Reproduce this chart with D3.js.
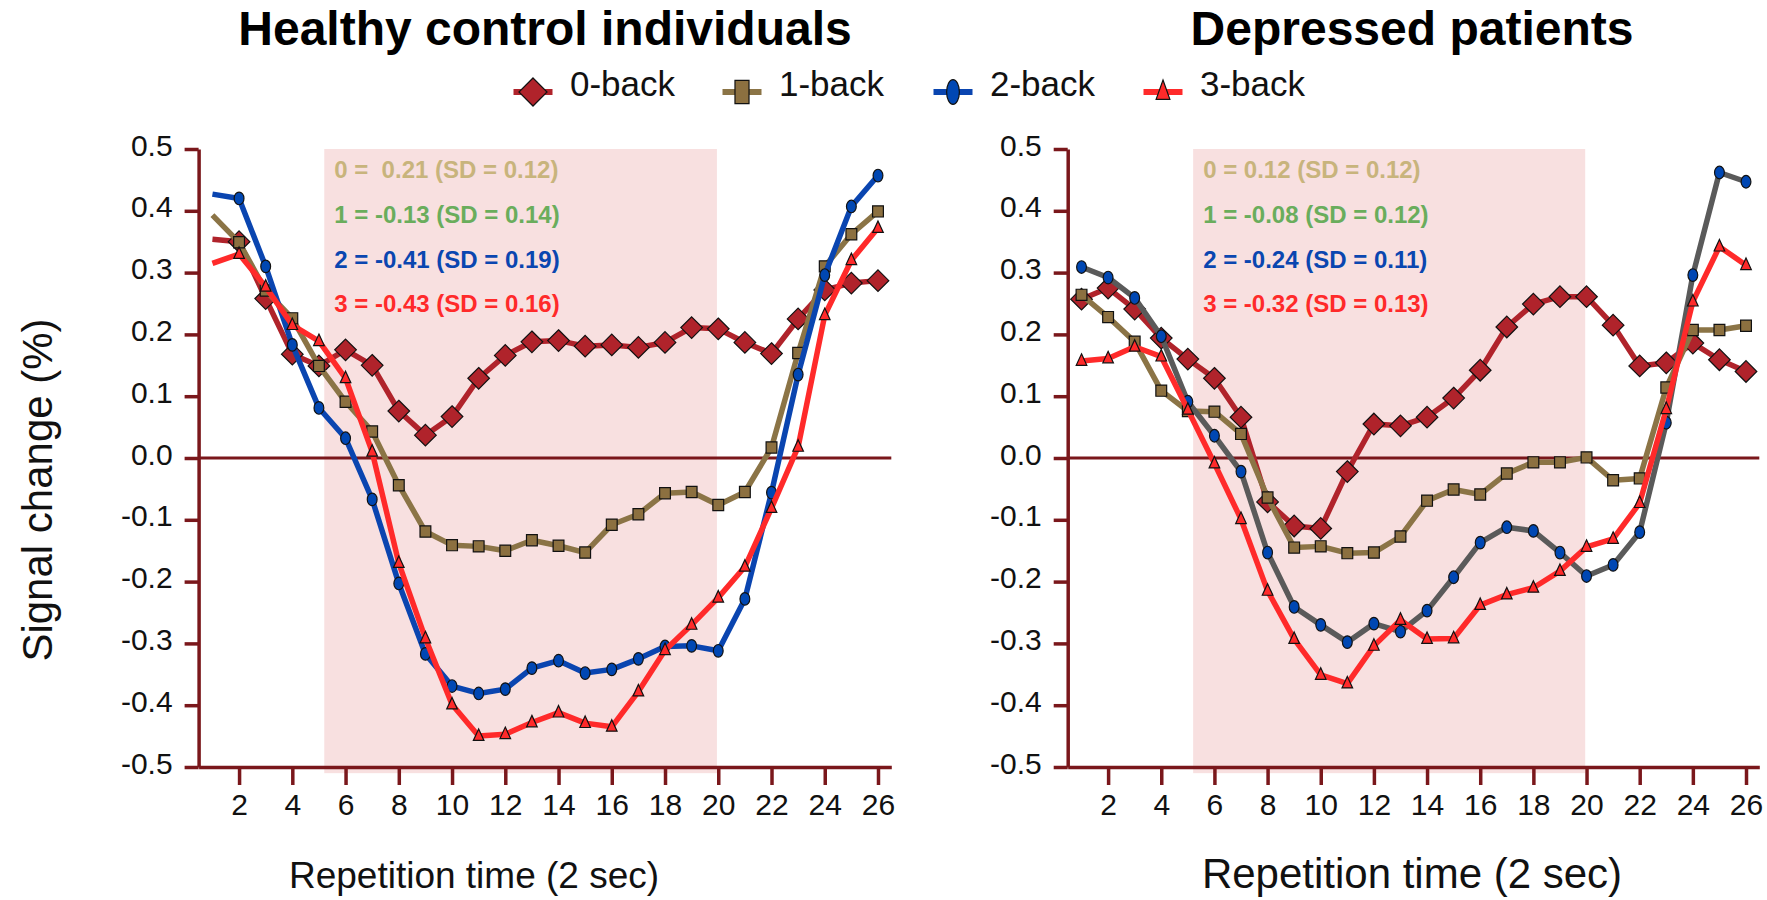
<!DOCTYPE html>
<html>
<head>
<meta charset="utf-8">
<script src="https://cdn.jsdelivr.net/npm/d3@7"></script>
<style>
  body { margin: 0; background: #fff; }
  svg { display: block; font-family: "Liberation Sans", Arial, sans-serif; }
</style>
</head>
<body>
<div id="chart"></div>
<script>
// data
const repetitions = [1,2,3,4,5,6,7,8,9,10,11,12,13,14,15,16,17,18,19,20,21,22,23,24,25,26];
const xTicks = [2,4,6,8,10,12,14,16,18,20,22,24,26];
const yTicks = [0.5,0.4,0.3,0.2,0.1,0.0,-0.1,-0.2,-0.3,-0.4,-0.5];
const taskBlock = [5.2, 19.95];
const seriesNames = ["0-back", "1-back", "2-back", "3-back"];
const panelTitles = ["Healthy control individuals", "Depressed patients"];

const healthy0 = [0.354,0.350,0.258,0.168,0.149,0.175,0.150,0.076,0.037,0.067,0.129,0.166,0.188,0.190,0.181,0.183,0.179,0.187,0.211,0.209,0.187,0.169,0.225,0.272,0.283,0.287];
const healthy1 = [0.393,0.349,0.271,0.226,0.149,0.091,0.043,-0.044,-0.119,-0.141,-0.143,-0.150,-0.133,-0.142,-0.153,-0.108,-0.091,-0.057,-0.055,-0.076,-0.055,0.017,0.170,0.310,0.362,0.399];
const healthy2 = [0.427,0.420,0.310,0.183,0.081,0.032,-0.067,-0.203,-0.317,-0.369,-0.381,-0.374,-0.340,-0.328,-0.348,-0.342,-0.325,-0.305,-0.304,-0.312,-0.228,-0.056,0.135,0.296,0.407,0.457];
const healthy3 = [0.315,0.330,0.277,0.215,0.189,0.129,0.010,-0.170,-0.292,-0.399,-0.450,-0.447,-0.428,-0.412,-0.429,-0.435,-0.378,-0.311,-0.270,-0.226,-0.176,-0.081,0.018,0.231,0.320,0.372];

const depressed0 = [0.257,0.275,0.241,0.194,0.160,0.129,0.066,-0.071,-0.110,-0.114,-0.022,0.055,0.052,0.066,0.097,0.142,0.212,0.249,0.261,0.261,0.215,0.149,0.154,0.186,0.159,0.140];
const depressed1 = [0.264,0.228,0.188,0.109,0.076,0.075,0.039,-0.064,-0.145,-0.143,-0.154,-0.153,-0.127,-0.069,-0.051,-0.059,-0.025,-0.007,-0.007,0.001,-0.036,-0.033,0.114,0.207,0.207,0.214];
const depressed2 = [0.309,0.292,0.259,0.197,0.091,0.036,-0.022,-0.153,-0.241,-0.270,-0.298,-0.268,-0.281,-0.247,-0.193,-0.137,-0.112,-0.118,-0.153,-0.191,-0.173,-0.120,0.057,0.296,0.462,0.447];
const depressed3 = [0.157,0.161,0.180,0.164,0.078,-0.009,-0.099,-0.215,-0.293,-0.351,-0.365,-0.304,-0.262,-0.293,-0.292,-0.238,-0.221,-0.210,-0.183,-0.144,-0.131,-0.073,0.079,0.253,0.342,0.312];

const healthyStats = ["0 =  0.21 (SD = 0.12)", "1 = -0.13 (SD = 0.14)", "2 = -0.41 (SD = 0.19)", "3 = -0.43 (SD = 0.16)"];
const depressedStats = ["0 = 0.12 (SD = 0.12)", "1 = -0.08 (SD = 0.12)", "2 = -0.24 (SD = 0.11)", "3 = -0.32 (SD = 0.13)"];

// styles
const axisColor = "#7a171b";
const shadeColor = "#f8e0e0";
const markFill = ["#b0232b", "#8c7040", "#0047b3", "#ff2a2a"];
const statColors = ["#c8b47c", "#6aad5c", "#0a46b0", "#ff2a2a"];
const shapes = ["diamond", "square", "ellipse", "triangle"];

const W = 1767, H = 900;
const svg = d3.select("#chart").append("svg")
    .attr("width", W).attr("height", H);

// marker path, centred at 0,0
function shapePath(kind, s) {
    if (kind === "diamond") { const r = 10.8 * s; return `M0,${-r}L${r},0L0,${r}L${-r},0Z`; }
    if (kind === "square") { const w = 5.4 * s, h = 5.6 * s * (s > 1 ? 1.6 : 1); return `M${-w},${-h}H${w}V${h}H${-w}Z`; }
    if (kind === "ellipse") { const rx = 4.9 * s, ry = 6.3 * s * (s > 1 ? 1.5 : 1);
        return `M${-rx},0A${rx},${ry} 0 1,0 ${rx},0A${rx},${ry} 0 1,0 ${-rx},0Z`; }
    const w = 5.3 * s, h = 11.5 * s * (s > 1 ? 1.3 : 1);
    return `M0,${-h * 0.62}L${w},${h * 0.38}L${-w},${h * 0.38}Z`;
}

const panels = [
    { title: panelTitles[0], cx: 545, range: [198.6, 891.3], series: [healthy0, healthy1, healthy2, healthy3],
      lineColors: ["#b0232b", "#8b7446", "#0a45b0", "#ff2a2a"], stats: healthyStats, markFrom: 1,
      xTitleX: 474, xTitleSize: 37 },
    { title: panelTitles[1], cx: 1412, range: [1067.7, 1759.3], series: [depressed0, depressed1, depressed2, depressed3],
      lineColors: ["#b0232b", "#8b7446", "#5a5a5a", "#ff2a2a"], stats: depressedStats, markFrom: 0,
      xTitleX: 1412, xTitleSize: 42 }
];

const y = d3.scaleLinear().domain([-0.5, 0.5]).range([767, 149]);

panels.forEach(p => {
    const x = d3.scaleLinear().domain([0.48, 26.5]).range(p.range);
    const g = svg.append("g");

    // task block shading
    g.append("rect")
        .attr("x", x(taskBlock[0])).attr("width", x(taskBlock[1]) - x(taskBlock[0]))
        .attr("y", y(0.5)).attr("height", y(-0.51) - y(0.5))
        .attr("fill", shadeColor);

    // zero line
    g.append("line")
        .attr("x1", x(0.48)).attr("x2", x(26.5))
        .attr("y1", y(0)).attr("y2", y(0))
        .attr("stroke", axisColor).attr("stroke-width", 3.2);

    // stats text
    g.selectAll(".stat").data(p.stats).join("text")
        .attr("class", "stat")
        .attr("x", x(taskBlock[0]) + 10)
        .attr("y", (d, i) => y(0.453 - i * 0.0725))
        .attr("fill", (d, i) => statColors[i])
        .style("font-size", "24px").style("font-weight", "bold")
        .style("white-space", "pre")
        .text(d => d);

    // series
    const line = d3.line().x((d, i) => x(repetitions[i])).y(d => y(d));
    p.series.forEach((vals, k) => {
        g.append("path")
            .attr("d", line(vals))
            .attr("fill", "none")
            .attr("stroke", p.lineColors[k])
            .attr("stroke-width", 5.5)
            .attr("stroke-linejoin", "round");
        g.selectAll(".m" + k).data(vals.slice(p.markFrom)).join("path")
            .attr("class", "m" + k)
            .attr("transform", (d, i) => `translate(${x(repetitions[i + p.markFrom])},${y(d)})`)
            .attr("d", shapePath(shapes[k], 1))
            .attr("fill", markFill[k])
            .attr("stroke", "#111").attr("stroke-width", 1.2);
    });

    // axes
    const yAxis = d3.axisLeft(y).tickValues(yTicks).tickSize(14).tickSizeOuter(0)
        .tickFormat(d => d.toFixed(1));
    const ya = g.append("g").attr("transform", `translate(${x(0.48)},0)`).call(yAxis);
    const xAxis = d3.axisBottom(x).tickValues(xTicks).tickSize(18).tickSizeOuter(0);
    const xa = g.append("g").attr("transform", `translate(0,${y(-0.5)})`).call(xAxis);

    [ya, xa].forEach(a => {
        a.select(".domain").attr("stroke", axisColor).attr("stroke-width", 3.5);
        a.selectAll(".tick line").attr("stroke", axisColor).attr("stroke-width", 3.5);
        a.selectAll(".tick text").attr("fill", "#111")
            .style("font-size", "30px").style("font-family", "'Liberation Sans', Arial, sans-serif");
    });
    ya.selectAll(".tick text").attr("x", -26).attr("dy", "0.2em");
    xa.selectAll(".tick text").attr("y", 27).attr("dy", "0.71em");

    // titles
    svg.append("text")
        .attr("x", p.cx).attr("y", 45).attr("text-anchor", "middle")
        .style("font-size", "48px").style("font-weight", "bold").attr("fill", "#000")
        .text(p.title);
    svg.append("text")
        .attr("x", p.xTitleX).attr("y", 888).attr("text-anchor", "middle")
        .style("font-size", p.xTitleSize + "px").attr("fill", "#111")
        .text("Repetition time (2 sec)");
});

// y axis title
svg.append("text")
    .attr("transform", "translate(52,490) rotate(-90)")
    .attr("text-anchor", "middle")
    .style("font-size", "42px").attr("fill", "#111")
    .text("Signal change (%)");

// legend
const legendX = [533, 742, 953, 1163];
const legendLine = ["#b0232b", "#8b7446", "#0a45b0", "#ff2a2a"];
const leg = svg.append("g");
seriesNames.forEach((name, k) => {
    const lx = legendX[k], ly = 92;
    leg.append("line").attr("x1", lx - 19.5).attr("x2", lx + 19.5).attr("y1", ly).attr("y2", ly)
        .attr("stroke", legendLine[k]).attr("stroke-width", 6);
    leg.append("path").attr("transform", `translate(${lx},${ly})`)
        .attr("d", shapePath(shapes[k], 1.3))
        .attr("fill", markFill[k]).attr("stroke", "#111").attr("stroke-width", 1.2);
    leg.append("text").attr("x", lx + 37).attr("y", 96)
        .style("font-size", "35px").attr("fill", "#111").text(name);
});
</script>
</body>
</html>
